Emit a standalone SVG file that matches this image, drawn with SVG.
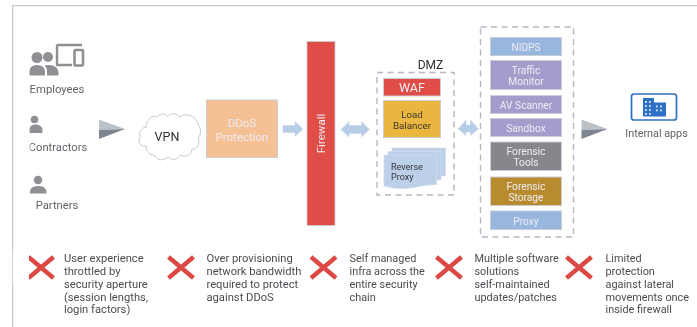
<svg xmlns="http://www.w3.org/2000/svg" width="697" height="327" viewBox="0 0 697 327">
<style>
text{font-family:Roboto,"Liberation Sans",sans-serif}
.g{fill:#8e9094}
.lbl{font-size:10.8px;fill:#5f6368;text-anchor:middle}
.box{stroke:#c9ced6;stroke-width:1}
.w{fill:#eeecf3;font-size:10.2px;text-anchor:middle}
.d{fill:none;stroke:#b4b8c2;stroke-width:1.4;stroke-dasharray:6 4.5}
.arrow{fill:#b7cde6;stroke:#c6d5e8;stroke-width:.5}
.note{font-size:11.2px;fill:#4a4d52}
.n2{font-size:10.9px}
.x{fill:none;stroke:#dc4a44;stroke-width:4.400}
</style>
<defs>
<filter id="soft" x="0" y="0" width="100%" height="100%"><feGaussianBlur stdDeviation="0.4"/></filter>
<g id="tri"><path d="M0 0V10.500L26 9.500Z" fill="#bcc3c8"/><path d="M0 10.500V19.500L26 9.500Z" fill="#7f8590"/></g>
<g id="cross"><path class="x" d="M1.500 1L26.500 22M26.500 1L1.500 22"/></g>
</defs>
<rect width="697" height="327" fill="#fff"/>
<g filter="url(#soft)">
<path d="M12.500 327V5.500H697" fill="none" stroke="#c9c9c9" stroke-width="1.600"/>
<g id="employees">
<circle class="g" cx="37" cy="57.500" r="5.500"/><circle class="g" cx="48" cy="57" r="5"/>
<path class="g" d="M29.500 75.500V71Q30 65 37 65T45 71V75.500Z"/><path class="g" d="M47 75.500V71Q47 67.500 44.500 65.500Q46 65 49 65Q57 65 58.500 72V75.500Z"/>
<path d="M57 64.500V46.500Q57 45 58.500 45H82M56 65H72" fill="none" stroke="#8e9094" stroke-width="2.400"/>
<rect x="74.500" y="50" width="8.500" height="15.500" rx="1" fill="none" stroke="#8e9094" stroke-width="2.600"/>
<text class="lbl" x="57" y="93" style="font-size:11.300px">Employees</text>
</g>
<g id="contractors">
<circle class="g" cx="34.500" cy="119.500" r="3.800"/><path class="g" d="M29.500 133V129Q30 124.500 35.500 124.500T42.500 129V133Z"/>
<text class="lbl" x="58" y="151" style="font-size:11.200px">Contractors</text>
<rect x="28" y="141" width="3" height="11" fill="#fff" opacity=".5"/>
</g>
<g id="partners">
<circle class="g" cx="38" cy="180" r="4.300"/><path class="g" d="M30 193.500V191Q31 186 38 186T46.500 191V193.500Z"/>
<text class="lbl" x="57" y="209" style="font-size:11.200px">Partners</text>
</g>
<use href="#tri" x="99" y="119.500"/>
<g id="vpn">
<path d="M146 146C140 147 137 141 140.500 137C137.500 132 143 126 146 128C146 120 152 114 157 117C160 113 165 113 168 116.500C171 112.500 177 113 179 117C185 112.500 196 115 198 124C201 127 201.500 135 198 138C201 143 197 150 192 149C192 155 185 158 180 155C177 160 172 161 168 157C164 161 157 161 154 155C150 156 146 151 146 146Z" fill="#fff" stroke="#c5cad1" stroke-width="1"/>
<text x="167" y="140.500" font-size="12.500" fill="#2d2f33" text-anchor="middle">VPN</text>
</g>
<g id="ddos">
<rect class="box" x="206.500" y="100" width="71" height="57.500" fill="#f4c094"/>
<text class="w" x="242" y="127" style="font-size:11.500px">DDoS</text>
<text class="w" x="242" y="140.500" style="font-size:11.500px">Protection</text>
</g>
<g id="firewall">
<rect x="307" y="41.500" width="28" height="184" fill="#e04e46" stroke="#c9ced6" stroke-width=".8"/>
<text class="w" transform="translate(325 133.500) rotate(-90)" style="font-size:11.500px">Firewall</text>
</g>
<g id="connectors">
<path class="arrow" d="M283 125.500H295V121.500L303 129L295 136.500V132.500H283Z"/>
<path class="arrow" d="M341 129.500L349 121.500V125.500H361.500V121.500L369.500 129.500L361.500 137V133.500H349V137Z"/>
<path class="arrow" d="M458 129L466 120V125H470.500V120L478.500 129L470.500 135.500V132H466V135.500Z"/>
</g>
<g id="dmz">
<text x="430.500" y="69" font-size="12" fill="#2d2f33" text-anchor="middle">DMZ</text>
<rect class="d" x="377" y="72.500" width="77" height="122.500"/>
<rect class="box" x="383.500" y="78.500" width="57" height="17.500" fill="#e04e46"/>
<text class="w" x="412" y="92" style="font-size:12.500px">WAF</text>
<rect class="box" x="383.500" y="100.500" width="57" height="37" fill="#eab63f"/>
<text x="412" y="117.500" font-size="9.800" fill="#3b3a32" text-anchor="middle">Load</text>
<text x="412" y="129" font-size="9.800" fill="#3b3a32" text-anchor="middle">Balancer</text>
<g fill="#bcd0ea" stroke="#d3deed" stroke-width=".7">
<path d="M392 148H445.500V176H392Z"/><path d="M388 151.500H441V180H388Z"/>
<path d="M384 155H436.500V184.500C425 184.500 415 188 405 188.500C396 189 390 187.500 384 186Z"/>
</g>
<text x="391" y="170" font-size="9" fill="#33363b">Reverse</text>
<text x="391" y="180" font-size="9" fill="#33363b">Proxy</text>
</g>
<g id="stack">
<rect class="d" x="480.500" y="27" width="93" height="210"/>
<rect class="box" x="490.500" y="37.500" width="71" height="18" fill="#98b7df"/><text class="w" x="526" y="50.500">NIDPS</text>
<rect class="box" x="490.500" y="60.500" width="71" height="29" fill="#a69ccb"/><text class="w" x="526" y="73.500">Traffic</text><text class="w" x="526" y="85">Monitor</text>
<rect class="box" x="490.500" y="95.500" width="71" height="18" fill="#a69ccb"/><text class="w" x="526" y="108.500">AV Scanner</text>
<rect class="box" x="490.500" y="118.500" width="71" height="18" fill="#a69ccb"/><text class="w" x="526" y="131.500">Sandbox</text>
<rect class="box" x="490.500" y="142" width="71" height="28.500" fill="#85878c"/><text class="w" x="526" y="154.500">Forensic</text><text class="w" x="526" y="166">Tools</text>
<rect class="box" x="490.500" y="177" width="71" height="28.500" fill="#b88b2e"/><text class="w" x="526" y="189.500">Forensic</text><text class="w" x="526" y="201">Storage</text>
<rect class="box" x="490.500" y="211" width="71" height="18.500" fill="#98b7df"/><text class="w" x="526" y="224.500">Proxy</text>
</g>
<use href="#tri" x="581.500" y="119.500"/>
<g id="internal-apps">
<rect x="631.500" y="94" width="45" height="26" rx="2.500" fill="#fff" stroke="#2f6fc4" stroke-width="1.700"/>
<path d="M643 98H654V102.500H666V116.500H643Z" fill="#2f6fc4"/>
<g fill="#dbe6f5"><rect x="645" y="101" width="1.800" height="1.800"/><rect x="649" y="101" width="1.800" height="1.800"/><rect x="645" y="105" width="1.800" height="1.800"/><rect x="649" y="105" width="1.800" height="1.800"/><rect x="645" y="109" width="1.800" height="1.800"/><rect x="649" y="109" width="1.800" height="1.800"/><rect x="645" y="113" width="1.800" height="1.800"/><rect x="649" y="113" width="1.800" height="1.800"/><rect x="656" y="105.500" width="1.800" height="1.800"/><rect x="660" y="105.500" width="1.800" height="1.800"/><rect x="656" y="109.500" width="1.800" height="1.800"/><rect x="660" y="109.500" width="1.800" height="1.800"/></g>
<text class="lbl" x="656.500" y="137">Internal apps</text>
</g>
<g id="issue-1"><use href="#cross" x="27" y="256" />
<rect x="12.900" y="250" width="16" height="35" fill="#fff"/>
<text class="note" x="64" y="262">User experience</text><text class="note" x="64" y="275">throttled by</text><text class="note" x="64" y="287.500">security aperture</text><text class="note" x="64" y="300.500">(session lengths,</text><text class="note" x="64" y="313">login factors)</text></g>
<g id="issue-2"><use href="#cross" x="167" y="256"/>
<text class="note" x="206.500" y="262">Over provisioning</text><text class="note" x="206.500" y="275">network bandwidth</text><text class="note" x="206.500" y="287.500">required to protect</text><text class="note" x="206.500" y="300.500">against DDoS</text></g>
<g id="issue-3"><use href="#cross" x="309.500" y="256"/>
<text class="note n2" x="349.500" y="262">Self managed</text><text class="note n2" x="349.500" y="275">infra across the</text><text class="note n2" x="349.500" y="287.500">entire security</text><text class="note n2" x="349.500" y="300.500">chain</text></g>
<g id="issue-4"><use href="#cross" x="435" y="256"/>
<text class="note n2" x="474.500" y="262">Multiple software</text><text class="note n2" x="474.500" y="275">solutions</text><text class="note n2" x="474.500" y="287.500">self-maintained</text><text class="note n2" x="474.500" y="300.500">updates/patches</text></g>
<g id="issue-5"><use href="#cross" x="565" y="256"/>
<text class="note n2" x="605.500" y="262">Limited</text><text class="note n2" x="605.500" y="275">protection</text><text class="note n2" x="605.500" y="287.500">against lateral</text><text class="note n2" x="605.500" y="300.500">movements once</text><text class="note n2" x="605.500" y="313">inside firewall</text></g>
</g>
</svg>
